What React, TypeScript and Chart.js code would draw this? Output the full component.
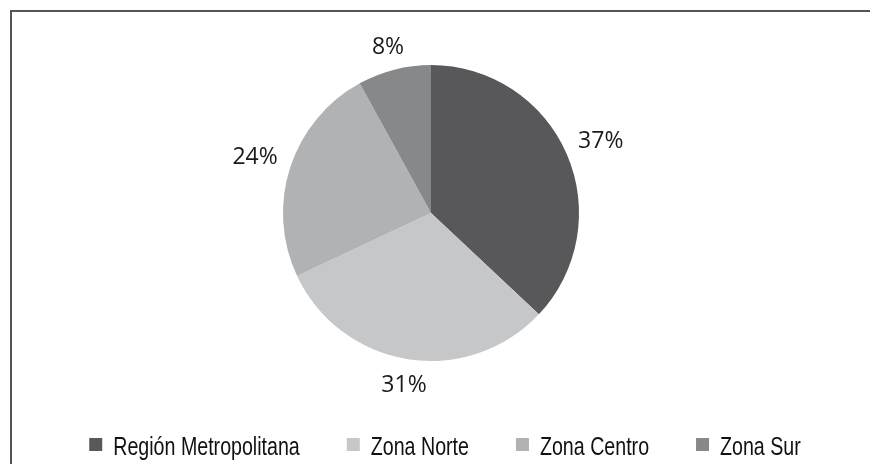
import React, { useEffect, useRef } from "react";
import { Chart, registerables } from "chart.js";

Chart.register(...registerables);

const categories = ["Región Metropolitana", "Zona Norte", "Zona Centro", "Zona Sur"];
const shares = [37, 31, 24, 8];
const sliceColors = ["#58585a", "#c6c7c9", "#b1b2b4", "#87888a"];

const labelFont = "23px 'Open Sans', 'Noto Sans', sans-serif";
const legendFont = "25px 'Liberation Sans', Arial, sans-serif";
const legendScaleX = 0.785;

const outsideLabels = {
  id: "outsideLabels",
  afterDatasetsDraw(chart: any) {
    const ctx = chart.ctx;
    const meta = chart.getDatasetMeta(0);
    ctx.save();
    ctx.font = labelFont;
    ctx.fillStyle = "#1a1a1a";
    ctx.textAlign = "center";
    ctx.textBaseline = "middle";
    meta.data.forEach((arc: any, i: number) => {
      const p = arc.getProps(["x", "y", "startAngle", "endAngle", "outerRadius"], true);
      const mid = (p.startAngle + p.endAngle) / 2;
      const text = shares[i] + "%";
      const w = ctx.measureText(text).width;
      const h = 16;
      const c = Math.cos(mid);
      const s = Math.sin(mid);
      const d = p.outerRadius + 13 + Math.abs(c) * w / 2 + Math.abs(s) * h / 2;
      ctx.fillText(text, p.x + c * d, p.y + s * d + 2);
    });
    ctx.restore();
  },
};

const customLegend = {
  id: "customLegend",
  afterDraw(chart: any) {
    const ctx = chart.ctx;
    ctx.save();
    ctx.font = legendFont;
    const box = 13;
    const gapText = 11;
    const gapItem = 47;
    const textW = categories.map((c) => ctx.measureText(c).width * legendScaleX);
    const widths = textW.map((t) => box + gapText + t);
    const total = widths.reduce((a, b) => a + b, 0) + gapItem * (categories.length - 1);
    let x = 445 - total / 2;
    const boxTop = 438;
    const baseline = 455;
    ctx.textBaseline = "alphabetic";
    ctx.textAlign = "left";
    categories.forEach((c, i) => {
      ctx.fillStyle = sliceColors[i];
      ctx.fillRect(x, boxTop, box, box);
      ctx.fillStyle = "#111";
      ctx.save();
      ctx.translate(x + box + gapText, baseline);
      ctx.scale(legendScaleX, 1);
      ctx.fillText(c, 0, 0);
      ctx.restore();
      x += widths[i] + gapItem;
    });
    ctx.restore();
  },
};

export default function App() {
  const ref = useRef<HTMLCanvasElement>(null);
  useEffect(() => {
    if (!ref.current) return;
    const chart = new Chart(ref.current, {
      type: "pie",
      data: {
        labels: categories,
        datasets: [
          {
            data: shares,
            backgroundColor: sliceColors,
            borderWidth: 0,
          },
        ],
      },
      options: {
        responsive: false,
        animation: false,
        layout: { padding: { top: 65, bottom: 103, left: 0, right: 8 } },
        plugins: {
          legend: { display: false },
          tooltip: { enabled: false },
        },
      },
      plugins: [outsideLabels, customLegend],
    });
    return () => chart.destroy();
  }, []);
  return (
    <div style={{ position: "absolute", left: 0, top: 0, width: 870, height: 464, background: "#fff", overflow: "hidden" }}>
      <div
        style={{
          position: "absolute",
          left: 10,
          top: 10,
          width: 900,
          height: 500,
          borderLeft: "2px solid #555",
          borderTop: "2px solid #555",
        }}
      />
      <canvas ref={ref} width={870} height={464} style={{ position: "absolute", left: 0, top: 0 }} />
    </div>
  );
}
